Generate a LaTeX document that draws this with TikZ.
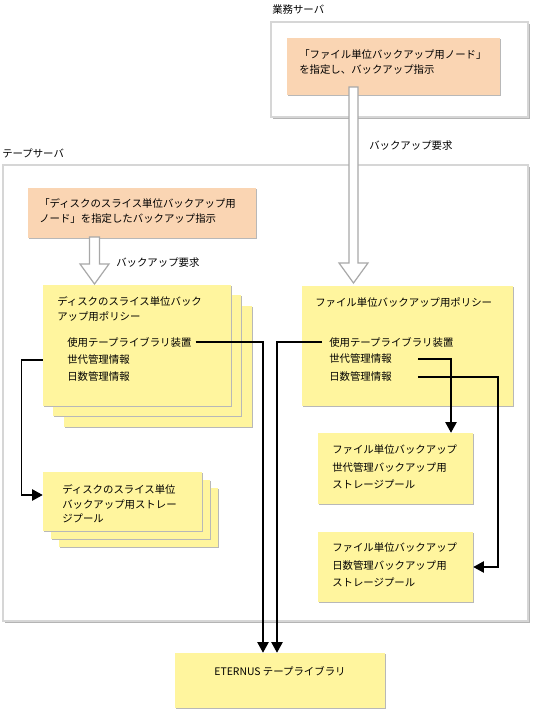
\documentclass[tikz,border=0pt]{standalone}
\usepackage{fontspec}
\setmainfont{Noto Sans CJK JP}
\usetikzlibrary{arrows.meta,calc,fit,shadows}
\definecolor{notepeach}{HTML}{FAD5B3}
\definecolor{noteyellow}{HTML}{FFF59E}
\definecolor{frameline}{HTML}{D6D6D6}
\definecolor{frameshade}{HTML}{B4B4B4}
\definecolor{hollowline}{HTML}{A8A8A8}

\begin{document}
\begin{tikzpicture}[x=0.75pt, y=-0.75pt,
    every node/.style={font=\fontsize{7.8pt}{11.25pt}\selectfont, inner sep=0pt},
    frame/.style={fill=white, draw=frameline, line width=0.8pt,
                  drop shadow={shadow xshift=1.2pt, shadow yshift=-1.2pt, fill=frameshade, opacity=1}},
    note/.style={fill=notepeach,
                 drop shadow={shadow xshift=1.1pt, shadow yshift=-1.1pt, fill=black!28, opacity=1}},
    memo/.style={note, fill=noteyellow},
    txt/.style={anchor=west, align=left},
    link/.style={draw=black, line width=1.1pt, -{Triangle[length=8pt, width=8.5pt]}},
    hollow/.style={fill=white, draw=hollowline, line width=0.9pt}]

  \useasboundingbox (0,0) rectangle (534,714);

  %% ---- 業務サーバ ----
  \node[txt] (bizlbl) at (272,10) {業務サーバ};
  \node[frame, fit={(271,22) (528,117)}] (bizsrv) {};
  \node[note, fit={(287,38) (500,95)}] (bizreq) {};
  \node[txt] (bizreqtxt) at (299,62) {「ファイル単位バックアップ用ノード」\\を指定し、バックアップ指示};

  %% ---- テープサーバ ----
  \node[txt] (tapelbl) at (2,153) {テープサーバ};
  \node[frame, fit={(3,165) (528,621)}] (tapesrv) {};
  \node[note, fit={(28,188) (256,238)}] (tapereq) {};
  \node[txt] (tapereqtxt) at (39,211) {「ディスクのスライス単位バックアップ用\\ノード」を指定したバックアップ指示};

  %% 左: ディスクのスライス単位のポリシー (3 枚重ね)
  \foreach \d/\n in {21/c, 10/b}
    \node[memo, fit={(43+\d,285+\d) (231+\d,406+\d)}] (lpol\n) {};
  \node[memo, fit={(43,285) (231,406)}] (lpol) {};
  \node[txt] (lpoltitle) at (57,309) {ディスクのスライス単位バック\\アップ用ポリシー};
  \node[txt] (lpoluse) at (67,342) {使用テープライブラリ装置};
  \node[txt] (lpolgen) at (67,360) {世代管理情報};
  \node[txt] (lpolday) at (67,377) {日数管理情報};

  %% 左: ストレージプール (3 枚重ね)
  \foreach \d/\n in {16/c, 8/b}
    \node[memo, fit={(43+\d,472+\d) (202+\d,531+\d)}] (lpool\n) {};
  \node[memo, fit={(43,472) (202,531)}] (lpool) {};
  \node[txt, font=\fontsize{7.8pt}{10.9pt}\selectfont] (lpooltxt) at (62,504)
    {ディスクのスライス単位\\バックアップ用ストレー\\ジプール};

  %% 右: ファイル単位のポリシー
  \node[memo, fit={(302,286) (513,406)}] (rpol) {};
  \node[txt] (rpoltitle) at (315,303) {ファイル単位バックアップ用ポリシー};
  \node[txt] (rpoluse) at (329,342) {使用テープライブラリ装置};
  \node[txt] (rpolgen) at (329,359) {世代管理情報};
  \node[txt] (rpolday) at (329,377) {日数管理情報};

  %% 右: ストレージプール
  \node[memo, fit={(318,433) (473,504)}] (rgen) {};
  \node[txt, font=\fontsize{7.8pt}{13.1pt}\selectfont] (rgentxt) at (332,467)
    {ファイル単位バックアップ\\世代管理バックアップ用\\ストレージプール};
  \node[memo, fit={(318,532) (473,602)}] (rday) {};
  \node[txt, font=\fontsize{7.8pt}{13.1pt}\selectfont] (rdaytxt) at (332,565)
    {ファイル単位バックアップ\\日数管理バックアップ用\\ストレージプール};

  %% ---- ETERNUS テープライブラリ ----
  \node[memo, fit={(175,653) (385,708)}] (lib) {};
  \node (libtxt) at (280,671) {ETERNUS テープライブラリ};

  %% ---- バックアップ要求 (白抜き矢印) ----
  \draw[hollow] (349,87) -- (349,263) -- (339,263) -- (353.5,283)
                -- (368,263) -- (358,263) -- (358,87) -- cycle;
  \node[txt] (bizarrow) at (369,146) {バックアップ要求};
  \draw[hollow] (89.5,237) -- (89.5,264) -- (80,264) -- (94.5,284)
                -- (109,264) -- (99.5,264) -- (99.5,237) -- cycle;
  \node[txt] (tapearrow) at (116,263) {バックアップ要求};

  %% ---- 参照の線 ----
  \draw[link] ($(lpoluse.east)+(4,0)$) -| ($(lib.north)+(-17,0)$);
  \draw[link] (lpol.west |- lpolgen) -- ++(-21,0) |- (lpool.west |- 0,495);
  \draw[link] ($(rpoluse.west)+(-7,0)$) -| ($(lib.north)+(-3,0)$);
  \draw[link] ($(rpolgen.east)+(26,0)$) -| (rgen.north -| 451,0);
  \draw[link] ($(rpolday.east)+(26,0)$) -| (498,567) -- (rday.east |- 0,567);

\end{tikzpicture}
\end{document}
